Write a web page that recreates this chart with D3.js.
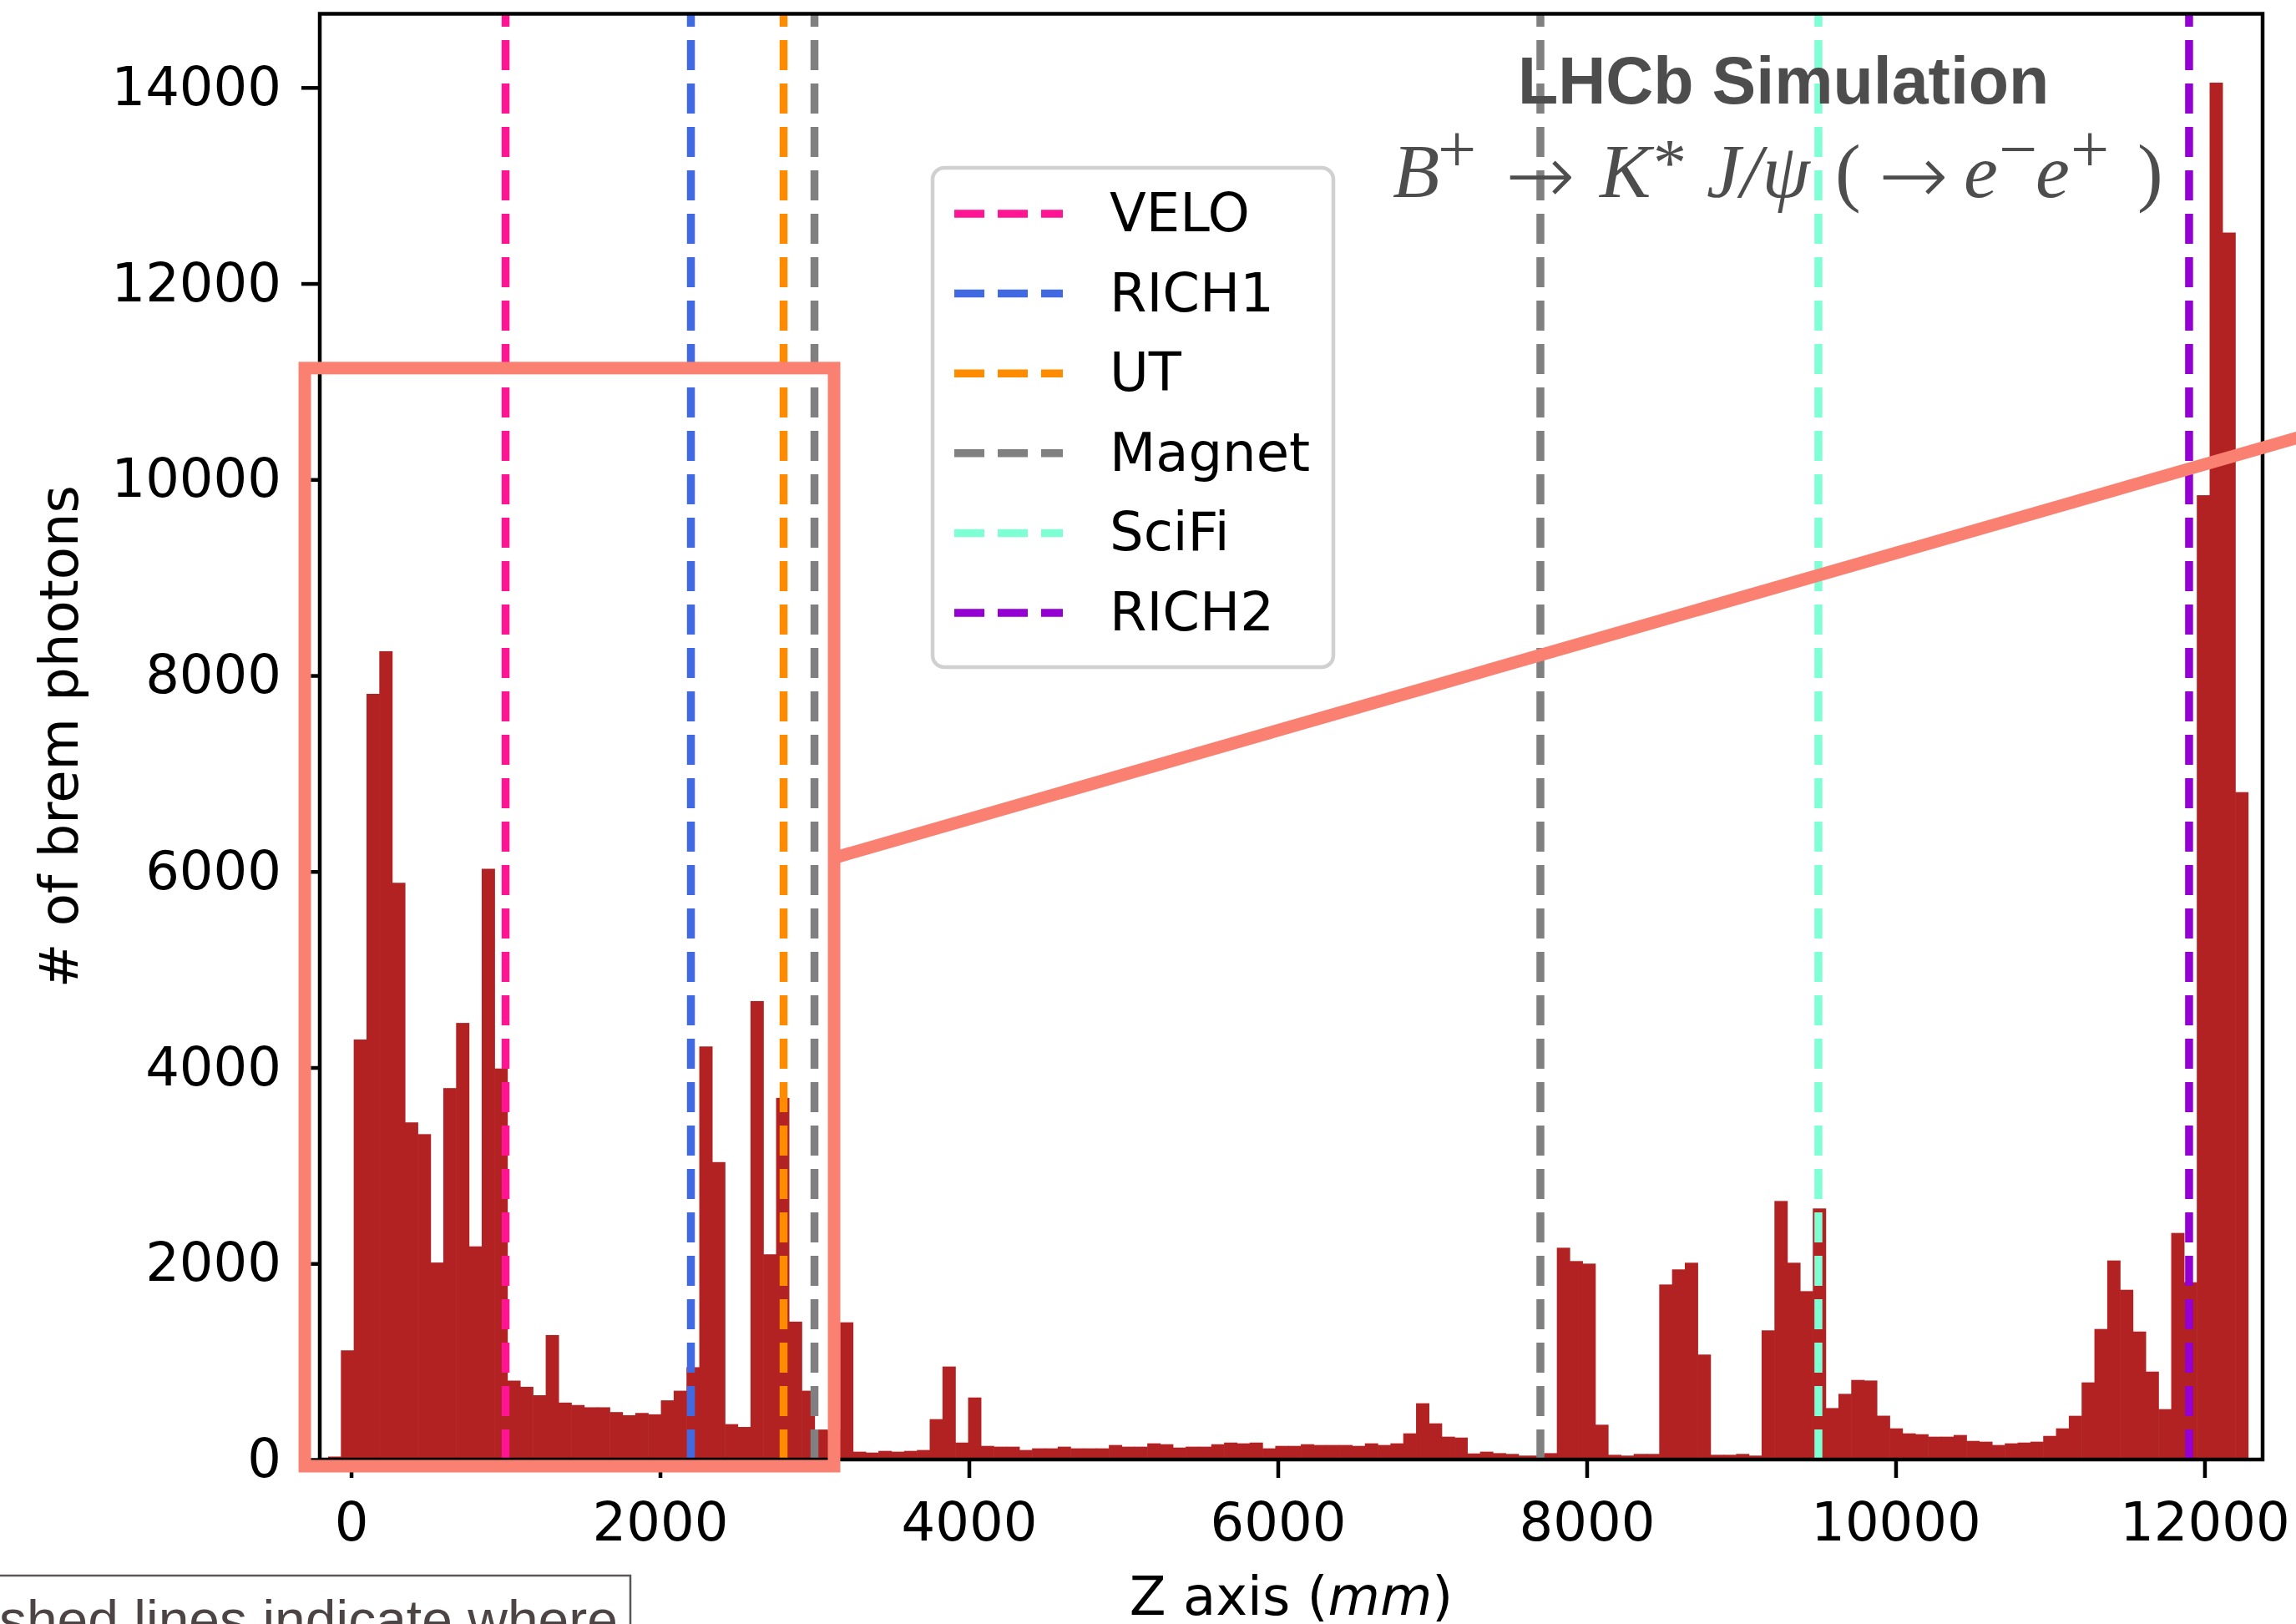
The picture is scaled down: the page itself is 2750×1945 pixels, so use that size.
<!DOCTYPE html>
<html>
<head>
<meta charset="utf-8">
<script src="https://cdn.jsdelivr.net/npm/d3@7"></script>
<style>
  body { margin: 0; background: #fff; }
  svg { display: block; }
</style>
</head>
<body>
<div id="chart"></div>
<script>
// histogram: 150 bins of brem photon z position
const binStart = -149;
const binWidth = 82.87;
const counts = [
  30, 1114, 4286, 7813, 8248, 5885, 3440, 3320, 2010, 3790,
  4455, 2175, 6028, 3990, 805, 742, 656, 1270, 581, 556,
  533, 533, 484, 452, 475, 461, 604, 702, 942, 4215,
  3035, 361, 332, 4678, 2094, 3690, 1407, 702, 306, 300,
  1400, 80, 71, 88, 80, 88, 97, 412, 949, 173,
  633, 139, 131, 131, 97, 114, 114, 131, 114, 114,
  114, 148, 131, 131, 165, 156, 122, 131, 131, 156,
  173, 165, 173, 114, 139, 139, 156, 148, 148, 148,
  139, 165, 148, 165, 267, 574, 369, 233, 224, 62,
  80, 65, 57, 40, 40, 65, 2161, 2025, 1999, 355,
  48, 40, 57, 57, 1786, 1940, 2008, 1071, 48, 48,
  57, 40, 1318, 2638, 2008, 1718, 2562, 525, 670, 812,
  806, 447, 318, 267, 258, 233, 233, 250, 190, 182,
  148, 165, 173, 182, 241, 318, 446, 787, 1332, 2031,
  1732, 1306, 897, 514, 2312, 1809, 9840, 14050, 12520, 6810
];

// detector positions along z (mm)
const detectorNames = ["VELO", "RICH1", "UT", "Magnet", "SciFi", "RICH2"];
const detectorZ = [[1000], [2200], [2800], [3000, 7700], [9500], [11900]];

const xTicks = [0, 2000, 4000, 6000, 8000, 10000, 12000];
const yTicks = [0, 2000, 4000, 6000, 8000, 10000, 12000, 14000];

// zoom box + connector, in data units
const zoomBox = {x0: -300, x1: 3127, y0: -68, y1: 11137};
const zoomLine = [[3154, 6152], [12647, 10447]];

const detectorColor = {
  VELO: "#ff1493", RICH1: "#4169e1", UT: "#ff8c00",
  Magnet: "#808080", SciFi: "#7fffd4", RICH2: "#9400d3"
};

const W = 2750, H = 1945;
const plot = {left: 383, right: 2710, top: 16.5, bottom: 1748};
const font = "DejaVu Sans";

const svg = d3.select("#chart").append("svg")
    .attr("width", W).attr("height", H)
    .attr("viewBox", `0 0 ${W} ${H}`);

const x = d3.scaleLinear().domain([-203, 12376]).range([plot.left, plot.right]);
const y = d3.scaleLinear().domain([0, d3.max(counts) * 1.05]).range([plot.bottom, plot.top]);

// bars
svg.append("g").selectAll("rect")
    .data(counts)
    .join("rect")
    .attr("x", (d, i) => x(binStart + i * binWidth))
    .attr("width", (d, i) => x(binStart + (i + 1) * binWidth) - x(binStart + i * binWidth) + 0.6)
    .attr("y", d => y(d))
    .attr("height", d => y(0) - y(d))
    .attr("fill", "#b22222");

// dashed detector lines (drawn bottom -> top like axvline)
const lw = 9.5, dash = "36,16";
detectorNames.forEach((name, k) => {
    detectorZ[k].forEach(z => {
        svg.append("line")
            .attr("x1", x(z)).attr("x2", x(z))
            .attr("y1", y.range()[0]).attr("y2", y.range()[1])
            .attr("stroke", detectorColor[name])
            .attr("stroke-width", lw)
            .attr("stroke-dasharray", dash);
    });
});

// axes
const xAxis = svg.append("g")
    .attr("transform", `translate(0,${plot.bottom})`)
    .call(d3.axisBottom(x).tickValues(xTicks).tickSize(22).tickSizeOuter(0).tickPadding(30).tickFormat(d3.format("d")));
const yAxis = svg.append("g")
    .attr("transform", `translate(${plot.left},0)`)
    .call(d3.axisLeft(y).tickValues(yTicks).tickSize(22).tickSizeOuter(0).tickPadding(24).tickFormat(d3.format("d")));

[xAxis, yAxis].forEach(g => {
    g.select(".domain").remove();
    g.selectAll(".tick line").attr("stroke", "#000").attr("stroke-width", 4.5);
    g.selectAll(".tick text")
        .attr("fill", "#000")
        .style("font-family", font)
        .style("font-size", "64px");
});

// frame
svg.append("rect")
    .attr("x", plot.left).attr("y", plot.top)
    .attr("width", plot.right - plot.left)
    .attr("height", plot.bottom - plot.top)
    .attr("fill", "none")
    .attr("stroke", "#000")
    .attr("stroke-width", 4.5);

// axis labels
const xl = svg.append("text")
    .attr("x", (plot.left + plot.right) / 2).attr("y", 1934)
    .attr("text-anchor", "middle")
    .style("font-family", font).style("font-size", "64px");
xl.append("tspan").text("Z axis (");
xl.append("tspan").style("font-style", "italic").text("mm");
xl.append("tspan").text(")");

svg.append("text")
    .attr("transform", `translate(93,${(plot.top + plot.bottom) / 2}) rotate(-90)`)
    .attr("text-anchor", "middle")
    .style("font-family", font).style("font-size", "64px")
    .text("# of brem photons");

// legend
const leg = svg.append("g");
leg.append("rect")
    .attr("x", 1117).attr("y", 201).attr("width", 480).attr("height", 598)
    .attr("rx", 14)
    .attr("fill", "#fff").attr("fill-opacity", 0.8)
    .attr("stroke", "#d0d0d0").attr("stroke-width", 4.5);
detectorNames.forEach((name, k) => {
    const ry = 256 + k * 95.6;
    leg.append("line")
        .attr("x1", 1143).attr("x2", 1273)
        .attr("y1", ry).attr("y2", ry)
        .attr("stroke", detectorColor[name])
        .attr("stroke-width", lw)
        .attr("stroke-dasharray", dash);
    leg.append("text")
        .attr("x", 1329).attr("y", ry + 21)
        .style("font-family", font).style("font-size", "64px")
        .text(name);
});

// LHCb label
svg.append("text")
    .attr("x", 1818).attr("y", 124)
    .style("font-family", "Liberation Sans, Arial, sans-serif")
    .style("font-weight", "bold").style("font-size", "79px")
    .attr("fill", "#4d4d4d")
    .text("LHCb Simulation");

// decay formula, each glyph group placed like mathtext does
const fy = 236, supY = 206;
const f = svg.append("text")
    .style("font-family", "Liberation Serif, Times New Roman, serif")
    .style("font-size", "92px")
    .attr("fill", "#4d4d4d");
const piece = (t, px, opts = {}) => f.append("tspan")
    .attr("x", px).attr("y", opts.sup ? supY : (opts.y || fy))
    .style("font-style", opts.it ? "italic" : "normal")
    .style("font-size", opts.sup ? "82px" : (opts.size || "92px"))
    .style("font-family", opts.fam || null)
    .style("font-weight", opts.fam ? 300 : null)
    .text(t);
piece("B", 1668, {it: true});
piece("+", 1722, {sup: true});
piece("\u2192", 1803, {fam: "DejaVu Sans", size: "100px", y: 244});
piece("K", 1916, {it: true});
piece("*", 1980, {y: 222, size: "80px"});
piece("J/\u03c8", 2044, {it: true});
piece("(", 2198);
piece("\u2192", 2250, {fam: "DejaVu Sans", size: "100px", y: 244});
piece("e", 2352, {it: true});
piece("\u2212", 2394, {sup: true});
piece("e", 2438, {it: true});
piece("+", 2480, {sup: true});
piece(")", 2560);

// zoom box + connector (figure-level annotation)
svg.append("rect")
    .attr("x", x(zoomBox.x0)).attr("y", y(zoomBox.y1))
    .attr("width", x(zoomBox.x1) - x(zoomBox.x0))
    .attr("height", y(zoomBox.y0) - y(zoomBox.y1))
    .attr("fill", "none")
    .attr("stroke", "#fa8072").attr("stroke-width", 15);
svg.append("line")
    .attr("x1", x(zoomLine[0][0])).attr("y1", y(zoomLine[0][1]))
    .attr("x2", x(zoomLine[1][0])).attr("y2", y(zoomLine[1][1]))
    .attr("stroke", "#fa8072").attr("stroke-width", 15);

// caption box cut off at the bottom-left
svg.append("rect")
    .attr("x", -10).attr("y", 1887).attr("width", 765).attr("height", 120)
    .attr("fill", "#fff").attr("stroke", "#5c5555").attr("stroke-width", 2.5);
svg.append("text")
    .attr("x", 740).attr("y", 1963)
    .attr("text-anchor", "end")
    .style("font-family", "Liberation Sans, Arial, sans-serif")
    .style("font-size", "66px")
    .attr("fill", "#4d4545")
    .text("Dashed lines indicate where");
</script>
</body>
</html>
